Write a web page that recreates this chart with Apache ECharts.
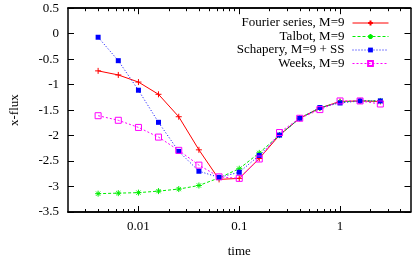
<!DOCTYPE html>
<html>
<head>
<meta charset="utf-8">
<script src="https://cdn.jsdelivr.net/npm/echarts@6/dist/echarts.min.js"></script>
<style>html,body{margin:0;padding:0;background:#fff}#c{width:415px;height:263px}</style>
</head>
<body>
<div id="c"></div>
<script>
var times = [0.00398, 0.00631, 0.01, 0.0158, 0.0251, 0.0398, 0.0631, 0.1, 0.158, 0.251, 0.398, 0.631, 1, 1.58, 2.51];
var fourier = [-0.73, -0.81, -0.95, -1.19, -1.63, -2.28, -2.86, -2.84, -2.45, -1.99, -1.66, -1.46, -1.33, -1.32, -1.33];
var talbot = [-3.14, -3.13, -3.12, -3.09, -3.05, -2.98, -2.83, -2.65, -2.34, -1.99, -1.66, -1.46, -1.34, -1.32, -1.32];
var schapery = [-0.07, -0.53, -1.11, -1.74, -2.31, -2.70, -2.82, -2.72, -2.39, -1.99, -1.66, -1.45, -1.36, -1.32, -1.32];
var weeks = [-1.61, -1.70, -1.84, -2.03, -2.29, -2.58, -2.81, -2.84, -2.46, -1.94, -1.66, -1.49, -1.32, -1.32, -1.38];
var seriesNames = ['Fourier series, M=9', 'Talbot, M=9', 'Schapery, M=9 + SS', 'Weeks, M=9'];
var xMajorTicks = [0.01, 0.1, 1];
var xMinorTicks = [0.003,0.004,0.005,0.006,0.007,0.008,0.009,0.02,0.03,0.04,0.05,0.06,0.07,0.08,0.09,0.2,0.3,0.4,0.5,0.6,0.7,0.8,0.9,2,3,4];
var xMin = 0.002, xMax = 5;
var yMin = -3.5, yMax = 0.5, yStep = 0.5;

var FONT = "'Liberation Serif','Times New Roman',serif";
function pairs(vals){ return vals.map(function(v,i){ return [times[i], v]; }); }
function fmt(v){ return String(Number(Number(v).toPrecision(6))); }

var axisLine = {show:true, onZero:false, lineStyle:{color:'#000', width:1.5}};
function xAxis(pos, major, labels){
  return {
    type:'log', logBase:10, min:xMin, max:xMax, position:pos, gridIndex:0,
    axisLine: axisLine,
    axisTick:{show:true, inside:true, length: major?6:3, customValues: major?xMajorTicks:xMinorTicks, lineStyle:{color:'#000', width:1}},
    axisLabel: labels ? {show:true, customValues:xMajorTicks, formatter:fmt, color:'#000', fontFamily:FONT, fontSize:13, margin:8} : {show:false},
    splitLine:{show:false}, minorTick:{show:false},
    name: labels ? 'time' : '', nameLocation:'middle', nameGap:33,
    nameTextStyle:{color:'#000', fontFamily:FONT, fontSize:13}
  };
}
function yAxis(pos, labels){
  return {
    type:'value', min:yMin, max:yMax, interval:yStep, position:pos,
    axisLine: axisLine,
    axisTick:{show:true, inside:true, length:6, lineStyle:{color:'#000', width:1}},
    axisLabel: labels ? {show:true, formatter:fmt, color:'#000', fontFamily:FONT, fontSize:13, margin:9} : {show:false},
    splitLine:{show:false},
    name: labels ? 'x-flux' : '', nameLocation:'middle', nameGap:47, nameRotate:90,
    nameTextStyle:{color:'#000', fontFamily:FONT, fontSize:13}
  };
}

var plusPath = 'path://M0,5L10,5M5,0L5,10';
var starPath = 'path://M0,5L10,5M5,0L5,10M1.5,1.5L8.5,8.5M8.5,1.5L1.5,8.5';

var option = {
  animation:false,
  backgroundColor:'#fff',
  grid:{left:62, right:4.5, top:8.2, bottom:40.2, containLabel:false},
  xAxis:[xAxis('bottom', true, true), xAxis('bottom', false, false), xAxis('top', true, false), xAxis('top', false, false)],
  yAxis:[yAxis('left', true), yAxis('right', false)],
  legend:{
    orient:'vertical', right:21, top:11.5, align:'right',
    itemWidth:36, itemHeight:6, itemGap:0.5,
    lineStyle:{width:1},
    textStyle:{color:'#000', fontFamily:FONT, fontSize:13, lineHeight:13, padding:[0,3,0,0]},
    data: seriesNames
  },
  series:[
    {name:seriesNames[0], type:'line', data:pairs(fourier), symbol:plusPath, symbolSize:6,
     lineStyle:{color:'#ff0000', width:1, type:'solid'},
     itemStyle:{color:'#ff0000', borderColor:'#ff0000', borderWidth:1}},
    {name:seriesNames[1], type:'line', data:pairs(talbot), symbol:starPath, symbolSize:6,
     lineStyle:{color:'#00ee00', width:1, type:[3,2]},
     itemStyle:{color:'#00ee00', borderColor:'#00ee00', borderWidth:1}},
    {name:seriesNames[2], type:'line', data:pairs(schapery), symbol:'rect', symbolSize:5,
     lineStyle:{color:'#0000ff', width:1, type:[1,2]},
     itemStyle:{color:'#0000ff', borderColor:'#0000ff', borderWidth:0}},
    {name:seriesNames[3], type:'line', data:pairs(weeks), symbol:'rect', symbolSize:6,
     lineStyle:{color:'#ff00ff', width:1, type:[2,2]},
     itemStyle:{color:'rgba(255,0,255,0)', borderColor:'#ff00ff', borderWidth:1}}
  ]
};
var chart = echarts.init(document.getElementById('c'), null, {renderer:'canvas'});
chart.setOption(option);
</script>
</body>
</html>
